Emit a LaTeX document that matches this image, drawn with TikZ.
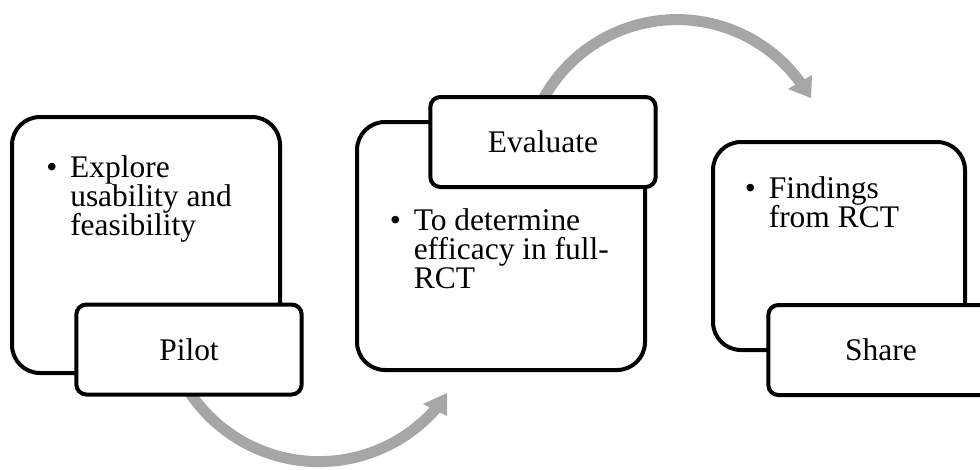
\documentclass[tikz,border=0pt]{standalone}
\usepackage{fontspec}
\setmainfont{Liberation Serif}
\usetikzlibrary{positioning}

% body and label type
\newcommand{\diagfont}{\fontsize{23.6pt}{22.1pt}\selectfont}
% bulleted text block: first line carries the bullet, following lines hang
\newcommand{\bulletblock}[1]{%
  \parbox[t]{200pt}{\hangindent=18pt\hangafter=1
    \makebox[18pt][l]{\textbullet}#1}}

\definecolor{arcgray}{RGB}{166,166,166}

\tikzset{
  card/.style={draw=black, line width=3pt, fill=white, rounded corners=21pt,
               inner sep=0pt},
  tab/.style={draw=black, line width=3pt, fill=white, rounded corners=7.5pt,
              inner sep=0pt, minimum width=169pt, minimum height=67.5pt,
              font=\diagfont},
  bodytext/.style={anchor=base west, inner sep=0pt, font=\diagfont},
  shaft/.style={draw=arcgray, line width=8.25pt},
  head/.style={fill=arcgray},
}

\begin{document}
\begin{tikzpicture}[x=0.75pt, y=-0.75pt]
  \useasboundingbox (0,0) rectangle (980,469);
  \clip (0,0) rectangle (980,469);

  % curved gray arrows linking the stages
  \coordinate (lowstart) at (184.25,383.8);
  \coordinate (upstart) at (533.8,119.9);
  \draw[shaft] (lowstart) arc[start angle=150, end angle=40, radius=155.6];
  \fill[head] (447,393) -- (423,404) -- (447,416) -- cycle;
  \draw[shaft] (upstart) arc[start angle=200, end angle=325, radius=152.4];
  \fill[head] (811,98) -- (788,89) -- (812,75) -- cycle;

  % stage 1
  \node[card, minimum width=201pt, minimum height=192pt] (pilotcard) at (146,245) {};
  \node[tab] (pilot) at (189,349.5) {Pilot};
  \node[bodytext] (pilottext) at (46,177)
    {\bulletblock{Explore\\usability and\\feasibility}};

  % stage 2
  \node[card, minimum width=216pt, minimum height=186pt] (evalcard) at (501,246) {};
  \node[tab] (evaluate) at (543,142) {Evaluate};
  \node[bodytext] (evaltext) at (389.5,230)
    {\bulletblock{To determine\\efficacy in full-\\RCT}};

  % stage 3
  \node[card, minimum width=189pt, minimum height=156pt] (sharecard) at (839,246) {};
  \node[tab] (share) at (881,350) {Share};
  \node[bodytext] (sharetext) at (744.5,198.5)
    {\bulletblock{Findings\\from RCT}};
\end{tikzpicture}
\end{document}
